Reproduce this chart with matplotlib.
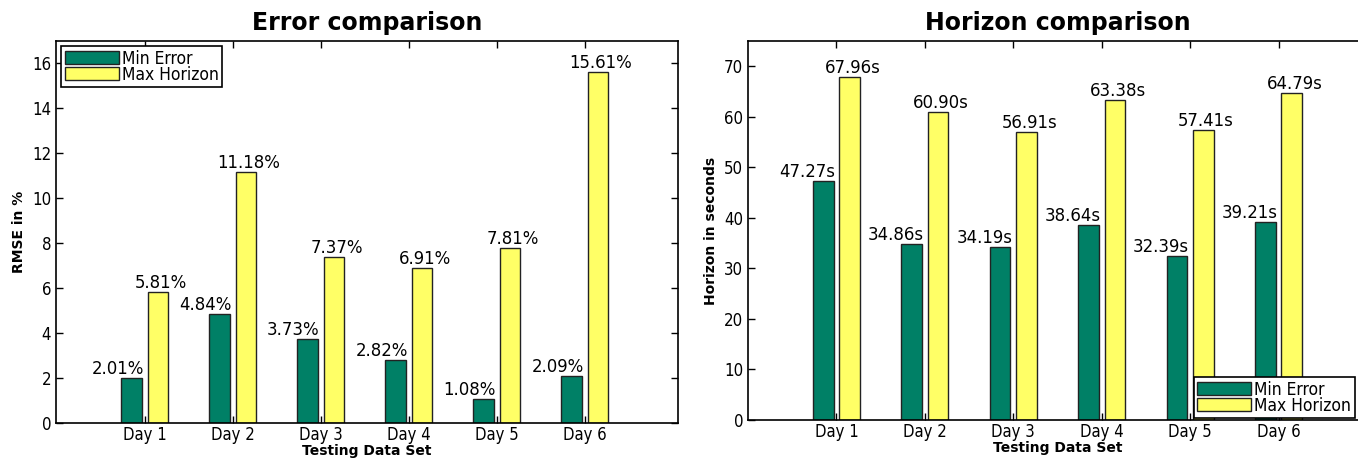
import matplotlib
matplotlib.use("Agg")
import matplotlib.pyplot as plt
from matplotlib import font_manager
import numpy as np

days = ["Day 1", "Day 2", "Day 3", "Day 4", "Day 5", "Day 6"]
rmse_min_error = [2.01, 4.84, 3.73, 2.82, 1.08, 2.09]
rmse_max_horizon = [5.81, 11.18, 7.37, 6.91, 7.81, 15.61]
hor_min_error = [47.27, 34.86, 34.19, 38.64, 32.39, 39.21]
hor_max_horizon = [67.96, 60.90, 56.91, 63.38, 57.41, 64.79]

GREEN = "#008066"
YELLOW = "#ffff66"
EDGE = "#222222"

has_cond = any("Condensed" in f.name or f.stretch in ("condensed", "semi-condensed", 600, 300)
               for f in font_manager.fontManager.ttflist if "DejaVu" in f.name)
stretch = "condensed" if has_cond else "normal"
scale = 1.1 if has_cond else 1.0

fig = plt.figure(figsize=(13.58, 4.58), dpi=100)
axL = fig.add_axes([56/1358, 35/458, 622/1358, 382/458])
axR = fig.add_axes([748/1358, 38/458, 619/1358, 379/458])

w = 0.235
off = 0.032

def draw(ax, a, b, suffix, ylim, yticks, title, ylabel, legloc, legkw):
    x = np.arange(len(days))
    ax.bar(x - off - w/2, a, width=w, color=GREEN, edgecolor=EDGE, linewidth=1, label="Min Error")
    ax.bar(x + off + w/2, b, width=w, color=YELLOW, edgecolor=EDGE, linewidth=1, label="Max Horizon")
    for xi, v in zip(x, a):
        ax.text(xi - off + 0.02, v, f"{v:.2f}{suffix}", ha="right", va="bottom",
                fontsize=12 * scale, fontstretch=stretch)
    for xi, v in zip(x, b):
        ax.text(xi + off + w/2 + 0.03, v, f"{v:.2f}{suffix}", ha="center", va="bottom",
                fontsize=12 * scale, fontstretch=stretch)
    ax.set_xticks(x)
    ax.set_xticklabels(days, fontsize=12, fontstretch=stretch)
    ax.set_ylim(*ylim)
    ax.set_yticks(yticks)
    for t in ax.get_yticklabels():
        t.set_fontsize(11 * scale)
        t.set_fontstretch(stretch)
    ax.tick_params(direction="in", top=True, right=True, length=5, width=1)
    ax.tick_params(axis="x", pad=2)
    ax.set_title(title, fontsize=17, fontweight="bold", pad=8)
    ax.set_xlabel("Testing Data Set", fontsize=10, fontweight="bold", labelpad=0)
    ax.set_ylabel(ylabel, fontsize=10, fontweight="bold", labelpad=4)
    for s in ax.spines.values():
        s.set_linewidth(1.2)
    leg = ax.legend(loc=legloc, prop={"size": 12.5, "stretch": stretch},
                    fancybox=False, framealpha=1,
                    edgecolor="black", labelspacing=-0.12, borderpad=0.2,
                    handlelength=3.1, handleheight=0.8, handletextpad=0.2, **legkw)
    leg.get_frame().set_linewidth(1.2)

draw(axL, rmse_min_error, rmse_max_horizon, "%", (0, 17), range(0, 17, 2),
     "Error comparison", "RMSE in %", "upper left", dict(borderaxespad=0.3))
axL.set_xlim(-1.01, 5 + 1.06)

draw(axR, hor_min_error, hor_max_horizon, "s", (0, 75), range(0, 71, 10),
     "Horizon comparison", "Horizon in seconds", "lower right",
     dict(bbox_to_anchor=(0.98, 0.005), borderaxespad=0.0))
axR.set_xlim(-1.0, 6.0)

fig.savefig("out.png", dpi=100)
